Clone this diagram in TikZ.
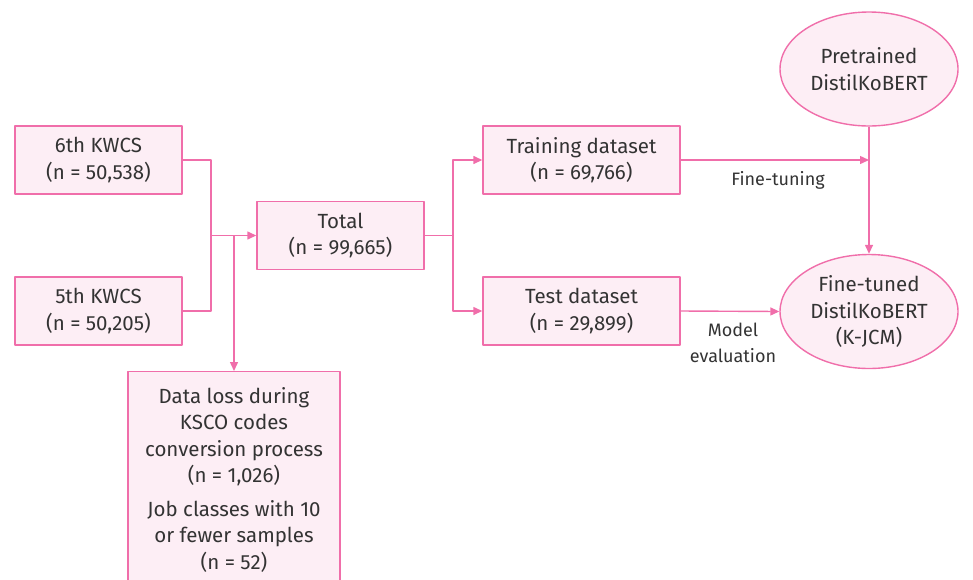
\documentclass[tikz,border=0pt]{standalone}
\usepackage{fontspec}
\setmainfont{Fira Sans}
\usetikzlibrary{arrows.meta,shapes.geometric}
\definecolor{pinkline}{HTML}{F06EAA}
\definecolor{pinkfill}{HTML}{FDEEF5}
\definecolor{txtgray}{HTML}{333333}
\tikzset{
  box/.style={draw=pinkline, fill=pinkfill, line width=1.4pt, minimum height=68pt, align=center, text=txtgray, inner sep=0pt},
  oval/.style={ellipse, draw=pinkline, fill=pinkfill, line width=1.4pt, minimum width=178pt, minimum height=114pt, align=center, text=txtgray, inner sep=0pt},
  link/.style={draw=pinkline, line width=1.4pt},
  note/.style={text=txtgray, align=center, font=\fontsize{18}{26}\selectfont}
}
\begin{document}
\begin{tikzpicture}[x=1pt, y=-1pt, font=\fontsize{20.5}{26.5}\selectfont, line join=round, >={Triangle[length=9pt,width=8pt]}]
	\useasboundingbox (0,0) rectangle (973,579);
	\node[box, minimum width=167pt] (kw6) at (98.5,160){6th KWCS\\(n = 50,538)};
	\node[box, minimum width=167pt] (kw5) at (98.5,311){5th KWCS\\(n = 50,205)};
	\node[box, minimum width=167pt] (total) at (340.5,235.5){Total\\(n = 99,665)};
	\node[box, minimum width=197pt] (train) at (581.5,160){Training dataset\\(n = 69,766)};
	\node[box, minimum width=197pt] (test) at (581.5,311){Test dataset\\(n = 29,899)};
	\node[oval] (pre) at (869,69){Pretrained\\DistilKoBERT};
	\node[oval] (fine) at (869,311.5){Fine-tuned\\DistilKoBERT\\(K-JCM)};
	\node[box, anchor=north, minimum width=212pt, minimum height=216pt] (loss) at (234,371){Data loss during\\KSCO codes\\conversion process\\(n = 1,026)\\[7pt]Job classes with 10\\or fewer samples\\(n = 52)};
	% joins
	\coordinate (j1) at (211,235.5);
	\coordinate (j2) at (234,235.5);
	\coordinate (j3) at (453,235.5);
	\draw[link] (kw6.east) -| (j1) |- (kw5.east);
	\draw[link,->] (j1) -- (total.west);
	\draw[link,->] (j2) -- (loss.north);
	\draw[link] (total.east) -- (j3);
	\draw[link,->] (j3) |- (train.west);
	\draw[link,->] (j3) |- (test.west);
	\draw[link,->] (train.east) -- (train.east -| pre.south);
	\draw[link,->] (pre.south) -- (fine.north);
	\draw[link,->] (test.east) -- (fine.west);
	\node[note] (ft) at (778,180){Fine-tuning};
	\node[note] (me) at (733,343){Model\\evaluation};
\end{tikzpicture}
\end{document}
